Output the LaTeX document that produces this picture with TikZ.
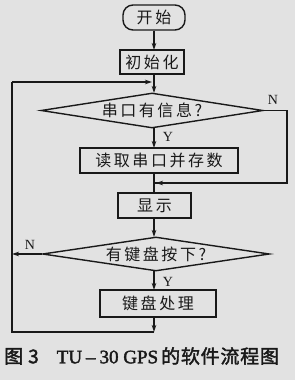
\documentclass[tikz,border=0pt]{standalone}
\usepackage{fontspec}
\newfontfamily\cjk{Noto Sans CJK SC}[LetterSpace=16]
\newfontfamily\cjkcap{Noto Sans CJK SC}[FakeBold=2,LetterSpace=4]
\newfontfamily\capserif{Liberation Serif}[FakeBold=2]
\setmainfont{Liberation Serif}
\usetikzlibrary{shapes.geometric,arrows.meta}
\definecolor{bg}{RGB}{226,226,226}
\definecolor{ink}{RGB}{25,25,25}
\tikzset{
  x=1pt,y=-1pt,
  line/.style={draw=ink,line width=1.4pt},
  arr/.style={line,-{Stealth[length=7pt,width=4.5pt]}},
  procbox/.style={line,rectangle,inner sep=0pt,font=\fontsize{16}{16}\cjk,text=ink},
  startbox/.style={line,rectangle,rounded corners=10pt,inner sep=0pt,font=\fontsize{16}{16}\cjk,text=ink},
  decbox/.style={line,diamond,inner sep=0pt,aspect=6,font=\fontsize{16}{16}\cjk,text=ink},
  lab/.style={font=\fontsize{14}{14}\selectfont,text=ink,inner sep=0pt}
}
\begin{document}
\begin{tikzpicture}
\fill[bg] (0,0) rectangle (295,380);
\useasboundingbox (0,0) rectangle (295,380);
\node[startbox,minimum width=62pt,minimum height=25pt] (start) at (154,17.5) {开始};
\node[procbox,minimum width=64pt,minimum height=24pt] (init) at (152,62) {初始化};
\node[decbox,minimum width=222pt,minimum height=35pt] (d1) at (152,110.5) {串口有信息?};
\node[procbox,minimum width=158pt,minimum height=25pt] (read) at (159,160.5) {读取串口并存数};
\node[procbox,minimum width=73pt,minimum height=25pt] (show) at (154.5,205.5) {显示};
\node[decbox,minimum width=227pt,minimum height=34pt] (d2) at (156,254) {有键盘按下?};
\node[procbox,minimum width=116pt,minimum height=27pt] (key) at (158,303.5) {键盘处理};
\coordinate (top) at (154,82);
\coordinate (join1) at (154,183);
\coordinate (join2) at (154,332);
\coordinate (r1) at (287,110.5);
\coordinate (r2) at (287,183);
\coordinate (l1) at (12,332);
\coordinate (l2) at (12,82);
\coordinate (l3) at (12,254);
\draw[arr] (start.south) -- (154,50);
\draw[line] (154,74) -- (top);
\draw[arr] (top) -- (154,93);
\draw[arr] (154,128) -- (154,148);
\draw[line] (d1.east) -- (r1) -- (r2) -- (join1);
\draw[arr] (r2) -- (156,183);
\draw[line] (154,173) -- (154,193);
\draw[arr] (154,218) -- (154,237);
\draw[arr] (d2.west) -- (l3);
\draw[arr] (154,271) -- (154,290);
\draw[arr] (154,317) -- (join2);
\draw[line] (join2) -- (l1) -- (l2);
\draw[arr] (l2) -- (152,82);
\node[lab] (n1) at (273,100) {N};
\node[lab] (y1) at (168,137) {Y};
\node[lab] (n2) at (30,245) {N};
\node[lab] (y2) at (168,282) {Y};
\node[text=ink,inner sep=0pt,anchor=west] (cap) at (4,356) {\fontsize{19}{19}\cjkcap 图\hspace{5pt}3\hspace{18pt}\capserif TU\hspace{4pt}–\hspace{4pt}30 GPS\hspace{3pt}\cjkcap 的软件流程图};
\end{tikzpicture}
\end{document}
